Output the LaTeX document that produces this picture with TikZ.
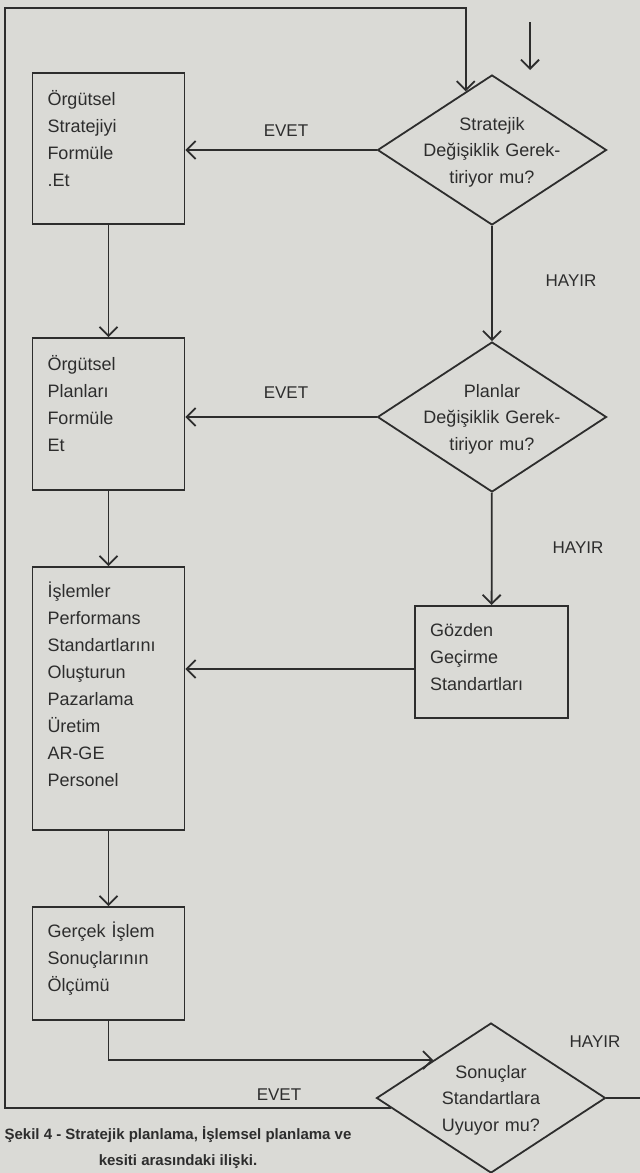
\documentclass[tikz,border=0pt]{standalone}
\usepackage{fontspec}
\setmainfont{Liberation Sans}
\usetikzlibrary{shapes.geometric,arrows.meta,calc}
\definecolor{kagit}{RGB}{218,218,214}
\definecolor{murekkep}{RGB}{45,45,45}
\tikzset{
  kutu/.style={shape=rectangle,draw=murekkep,minimum width=152pt,inner sep=0pt},
  karar/.style={shape=diamond,draw=murekkep,minimum width=229pt,minimum height=150pt,inner sep=0pt},
  yazi/.style={anchor=base west,text width=140pt,align=left,inner sep=0pt,text=murekkep,font=\fontsize{18}{27}\selectfont},
  soru/.style={anchor=base,text width=170pt,align=center,inner sep=0pt,text=murekkep,font=\fontsize{18}{26.5}\selectfont},
  etiket/.style={inner sep=0pt,text=murekkep,font=\fontsize{17}{20}\selectfont},
  baslik/.style={anchor=north,align=center,inner sep=0pt,text=murekkep,font=\bfseries\fontsize{15}{26}\selectfont},
  ok/.style={->,draw=murekkep}
}
\begin{document}
\begin{tikzpicture}[x=1pt,y=-1pt,line width=1.8pt,>={Straight Barb[length=9pt,width=18pt]}]
  \fill[kagit] (0,0) rectangle (640,1173);
  \useasboundingbox (0,0) rectangle (640,1173);
  \node[kutu,minimum height=151pt] (strateji) at (108.5,148.5) {};
  \node[kutu,minimum height=152pt] (plan) at (108.5,414) {};
  \node[kutu,minimum height=263pt] (standart) at (108.5,698.5) {};
  \node[kutu,minimum width=153pt,minimum height=112pt] (gozden) at (491.5,662) {};
  \node[kutu,minimum height=113pt] (olcum) at (108.5,963.5) {};
  \node[karar] (stratsoru) at (492,150) {};
  \node[karar] (plansoru) at (492,417) {};
  \node[karar] (sonucsoru) at (491,1098) {};
  \node[yazi] (strateji-y) at ([shift={(15,33)}]strateji.north west) {Örgütsel\\Stratejiyi\\Formüle\\.Et};
  \node[yazi] (plan-y) at ([shift={(15,33)}]plan.north west) {Örgütsel\\Planları\\Formüle\\Et};
  \node[yazi] (standart-y) at ([shift={(15,31)}]standart.north west) {İşlemler\\Performans\\Standartlarını\\Oluşturun\\Pazarlama\\Üretim\\AR-GE\\Personel};
  \node[yazi] (gozden-y) at ([shift={(15,31)}]gozden.north west) {Gözden\\Geçirme\\Standartları};
  \node[yazi] (olcum-y) at ([shift={(15,31)}]olcum.north west) {Gerçek İşlem\\Sonuçlarının\\Ölçümü};
  \node[soru] (stratsoru-y) at ([shift={(0,-20)}]stratsoru.center) {Stratejik\\Değişiklik Gerek-\\tiriyor mu?};
  \node[soru] (plansoru-y) at ([shift={(0,-20)}]plansoru.center) {Planlar\\Değişiklik Gerek-\\tiriyor mu?};
  \node[soru] (sonucsoru-y) at ([shift={(0,-20)}]sonucsoru.center) {Sonuçlar\\Standartlara\\Uyuyor mu?};
  \node[etiket] (evet1) at (286,131) {EVET};
  \node[etiket] (evet2) at (286,393) {EVET};
  \node[etiket] (evet3) at (279,1095) {EVET};
  \node[etiket] (hayir1) at (571,281) {HAYIR};
  \node[etiket] (hayir2) at (578,548) {HAYIR};
  \node[etiket] (hayir3) at (595,1042) {HAYIR};
  \node[baslik] (sekil) at (178,1126) {Şekil 4 - Stratejik planlama, İşlemsel planlama ve\\kesiti arasındaki ilişki.};
  \coordinate (giris) at (530,22);
  \coordinate (girisuc) at (530,70);
  \coordinate (kose) at (5,8);
  \coordinate (cikis) at (640,1098);
  \coordinate (gozden-ok) at ([shift={(0,7)}]gozden.west);
  \draw[ok] (giris) -- (girisuc);
  \path [ok] (strateji) edge (plan);
  \path [ok] (plan) edge (standart);
  \path [ok] (standart) edge (olcum);
  \path [ok] (stratsoru) edge (plansoru);
  \path [ok] (plansoru) edge (gozden);
  \draw[ok] (stratsoru.west) -- (stratsoru.west -| strateji.east);
  \draw[ok] (plansoru.west) -- (plansoru.west -| plan.east);
  \draw[ok] (gozden-ok) -- (gozden-ok -| standart.east);
  \draw[ok] (olcum.south) |- ($(sonucsoru.west)!0.5!(sonucsoru.north)$);
  \draw[ok] ($(sonucsoru.west)!0.133!(sonucsoru.south)$) -| (kose) -| ($(stratsoru.north)!0.228!(stratsoru.west)$);
  \draw[murekkep] (sonucsoru.east) -- (cikis);
\end{tikzpicture}
\end{document}
